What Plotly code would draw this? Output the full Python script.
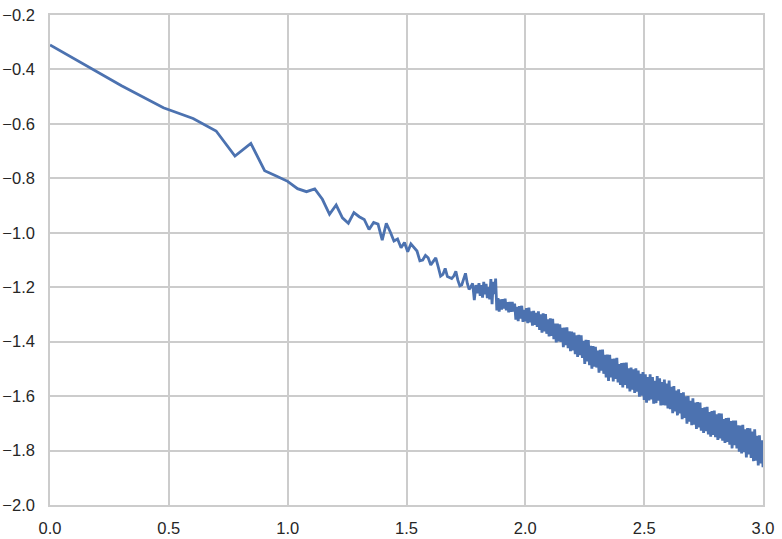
import plotly.graph_objects as go

# Sparse part of the curve (individually readable points)
x_sparse = [0.0, 0.3010, 0.4771, 0.6021, 0.6990, 0.7782, 0.8451, 0.9031, 0.9542, 1.0,
            1.0414, 1.0792, 1.1139, 1.1461, 1.1761, 1.2041, 1.2304, 1.2553, 1.2788, 1.3010,
            1.3222, 1.3424, 1.3617, 1.3802, 1.3979, 1.4150, 1.4314, 1.4472, 1.4624, 1.4771,
            1.4914, 1.5051, 1.5185, 1.5315, 1.5441, 1.5563, 1.5682, 1.5798, 1.5911, 1.6021,
            1.6128, 1.6232, 1.6335, 1.6435, 1.6532, 1.6628, 1.6721, 1.6812, 1.6902, 1.6990,
            1.7076, 1.7160, 1.7243, 1.7324, 1.7404, 1.7482, 1.7559, 1.7634, 1.7709, 1.7782,
            1.7853, 1.7924, 1.7993]
y_sparse = [-0.31, -0.46, -0.541, -0.58, -0.626, -0.718, -0.672, -0.772, -0.792, -0.811,
            -0.838, -0.849, -0.839, -0.877, -0.932, -0.898, -0.945, -0.965, -0.926, -0.941,
            -0.951, -0.988, -0.962, -0.968, -1.027, -0.965, -0.996, -1.030, -1.023, -1.055,
            -1.036, -1.07, -1.041, -1.053, -1.067, -1.103, -1.10, -1.083, -1.092, -1.118,
            -1.106, -1.092, -1.125, -1.159, -1.153, -1.131, -1.161, -1.164, -1.168, -1.159,
            -1.142, -1.174, -1.195, -1.192, -1.174, -1.149, -1.186, -1.208, -1.198, -1.186,
            -1.247, -1.192, -1.222]

# Dense, noisy part of the curve (read as a ragged band)
x_dense = [1.805, 1.81, 1.815, 1.82, 1.825, 1.83, 1.835, 1.84, 1.845, 1.85,
           1.855, 1.86, 1.865, 1.87, 1.875, 1.88, 1.885, 1.89, 1.895, 1.90,
           1.905, 1.91, 1.915, 1.92, 1.925, 1.93, 1.935, 1.94, 1.945, 1.95,
           1.955, 1.96, 1.965, 1.97, 1.975, 1.98, 1.985, 1.99, 1.995, 2.00,
           2.005, 2.01, 2.015, 2.02, 2.025, 2.03, 2.035, 2.04, 2.045, 2.05,
           2.055, 2.06, 2.065, 2.07, 2.075, 2.08, 2.085, 2.09, 2.095, 2.10,
           2.105, 2.11, 2.115, 2.12, 2.125, 2.13, 2.135, 2.14, 2.145, 2.15,
           2.155, 2.16, 2.165, 2.17, 2.175, 2.18, 2.185, 2.19, 2.195, 2.20,
           2.205, 2.21, 2.215, 2.22, 2.225, 2.23, 2.235, 2.24, 2.245, 2.25,
           2.255, 2.26, 2.265, 2.27, 2.275, 2.28, 2.285, 2.29, 2.295, 2.30,
           2.305, 2.31, 2.315, 2.32, 2.325, 2.33, 2.335, 2.34, 2.345, 2.35,
           2.355, 2.36, 2.365, 2.37, 2.375, 2.38, 2.385, 2.39, 2.395, 2.40,
           2.405, 2.41, 2.415, 2.42, 2.425, 2.43, 2.435, 2.44, 2.445, 2.45,
           2.455, 2.46, 2.465, 2.47, 2.475, 2.48, 2.485, 2.49, 2.495, 2.50,
           2.505, 2.51, 2.515, 2.52, 2.525, 2.53, 2.535, 2.54, 2.545, 2.55,
           2.555, 2.56, 2.565, 2.57, 2.575, 2.58, 2.585, 2.59, 2.595, 2.60,
           2.605, 2.61, 2.615, 2.62, 2.625, 2.63, 2.635, 2.64, 2.645, 2.65,
           2.655, 2.66, 2.665, 2.67, 2.675, 2.68, 2.685, 2.69, 2.695, 2.70,
           2.705, 2.71, 2.715, 2.72, 2.725, 2.73, 2.735, 2.74, 2.745, 2.75,
           2.755, 2.76, 2.765, 2.77, 2.775, 2.78, 2.785, 2.79, 2.795, 2.80,
           2.805, 2.81, 2.815, 2.82, 2.825, 2.83, 2.835, 2.84, 2.845, 2.85,
           2.855, 2.86, 2.865, 2.87, 2.875, 2.88, 2.885, 2.89, 2.895, 2.90,
           2.905, 2.91, 2.915, 2.92, 2.925, 2.93, 2.935, 2.94, 2.945, 2.95,
           2.955, 2.96, 2.965, 2.97, 2.975, 2.98, 2.985, 2.99, 2.995, 3.00]
y_dense = [-1.185, -1.232, -1.192, -1.238, -1.180, -1.226, -1.188, -1.240, -1.200, -1.245,
           -1.170, -1.262, -1.180, -1.225, -1.168, -1.285, -1.240, -1.290, -1.245, -1.282,
           -1.244, -1.278, -1.242, -1.285, -1.255, -1.292, -1.254, -1.290, -1.254, -1.289,
           -1.260, -1.319, -1.272, -1.325, -1.269, -1.315, -1.268, -1.327, -1.283, -1.325,
           -1.277, -1.332, -1.275, -1.329, -1.289, -1.341, -1.287, -1.338, -1.294, -1.346,
           -1.289, -1.357, -1.300, -1.367, -1.296, -1.362, -1.299, -1.371, -1.318, -1.381,
           -1.314, -1.379, -1.316, -1.391, -1.334, -1.403, -1.334, -1.399, -1.336, -1.401,
           -1.349, -1.420, -1.348, -1.413, -1.347, -1.424, -1.362, -1.435, -1.363, -1.432,
           -1.367, -1.446, -1.377, -1.456, -1.375, -1.450, -1.377, -1.460, -1.397, -1.482,
           -1.393, -1.473, -1.394, -1.486, -1.415, -1.499, -1.416, -1.492, -1.419, -1.495,
           -1.433, -1.514, -1.430, -1.507, -1.429, -1.518, -1.448, -1.531, -1.447, -1.544,
           -1.448, -1.531, -1.463, -1.546, -1.462, -1.537, -1.459, -1.550, -1.482, -1.559,
           -1.479, -1.568, -1.478, -1.559, -1.477, -1.572, -1.498, -1.583, -1.495, -1.576,
           -1.502, -1.588, -1.498, -1.584, -1.506, -1.602, -1.518, -1.598, -1.512, -1.614,
           -1.520, -1.624, -1.530, -1.616, -1.520, -1.612, -1.530, -1.628, -1.544, -1.626,
           -1.526, -1.617, -1.535, -1.634, -1.548, -1.633, -1.539, -1.634, -1.554, -1.645,
           -1.543, -1.648, -1.566, -1.663, -1.563, -1.656, -1.580, -1.671, -1.575, -1.664,
           -1.589, -1.685, -1.586, -1.680, -1.601, -1.701, -1.600, -1.694, -1.617, -1.707,
           -1.608, -1.705, -1.624, -1.721, -1.622, -1.715, -1.624, -1.727, -1.644, -1.735,
           -1.641, -1.729, -1.639, -1.741, -1.659, -1.749, -1.655, -1.743, -1.653, -1.751,
           -1.667, -1.761, -1.663, -1.755, -1.664, -1.764, -1.684, -1.772, -1.681, -1.768,
           -1.680, -1.778, -1.692, -1.792, -1.690, -1.780, -1.690, -1.792, -1.707, -1.804,
           -1.708, -1.811, -1.705, -1.806, -1.722, -1.825, -1.717, -1.814, -1.718, -1.827,
           -1.730, -1.839, -1.722, -1.837, -1.746, -1.855, -1.744, -1.847, -1.762, -1.861]

x_ticks = [0.0, 0.5, 1.0, 1.5, 2.0, 2.5, 3.0]
x_tick_labels = ["0.0", "0.5", "1.0", "1.5", "2.0", "2.5", "3.0"]
y_ticks = [-2.0, -1.8, -1.6, -1.4, -1.2, -1.0, -0.8, -0.6, -0.4, -0.2]
y_tick_labels = ["\u22122.0", "\u22121.8", "\u22121.6", "\u22121.4", "\u22121.2",
                 "\u22121.0", "\u22120.8", "\u22120.6", "\u22120.4", "\u22120.2"]

x_all = x_sparse + x_dense
y_all = y_sparse + y_dense

fig = go.Figure()
fig.add_trace(go.Scatter(x=x_all, y=y_all, mode="lines",
                         line=dict(color="#4C72B0", width=2.8),
                         showlegend=False, hoverinfo="skip", cliponaxis=True))

axis_common = dict(showgrid=True, gridcolor="#cccccc", gridwidth=1.5,
                   showline=True, linecolor="#cccccc", linewidth=1.5, mirror=True,
                   zeroline=False, ticks="", automargin=False,
                   ticklabeloverflow="allow",
                   tickfont=dict(size=16.5, color="#262626",
                                 family="Liberation Sans, Arial, sans-serif"))

fig.update_xaxes(range=[0, 3], tickvals=x_ticks, ticktext=x_tick_labels,
                 ticklabelstandoff=7, **axis_common)
fig.update_yaxes(range=[-2.0, -0.2], tickvals=y_ticks, ticktext=y_tick_labels,
                 ticklabelstandoff=10, **axis_common)

fig.update_layout(width=782, height=539,
                  margin=dict(l=50, r=19, t=15, b=34, pad=0),
                  paper_bgcolor="white", plot_bgcolor="white")

# Place the figure flush with the page corner (no default body margin).
fig.write_html("out.html",
               config={"displayModeBar": False},
               post_script="document.body.style.margin='0';"
                           "document.body.style.padding='0';")
